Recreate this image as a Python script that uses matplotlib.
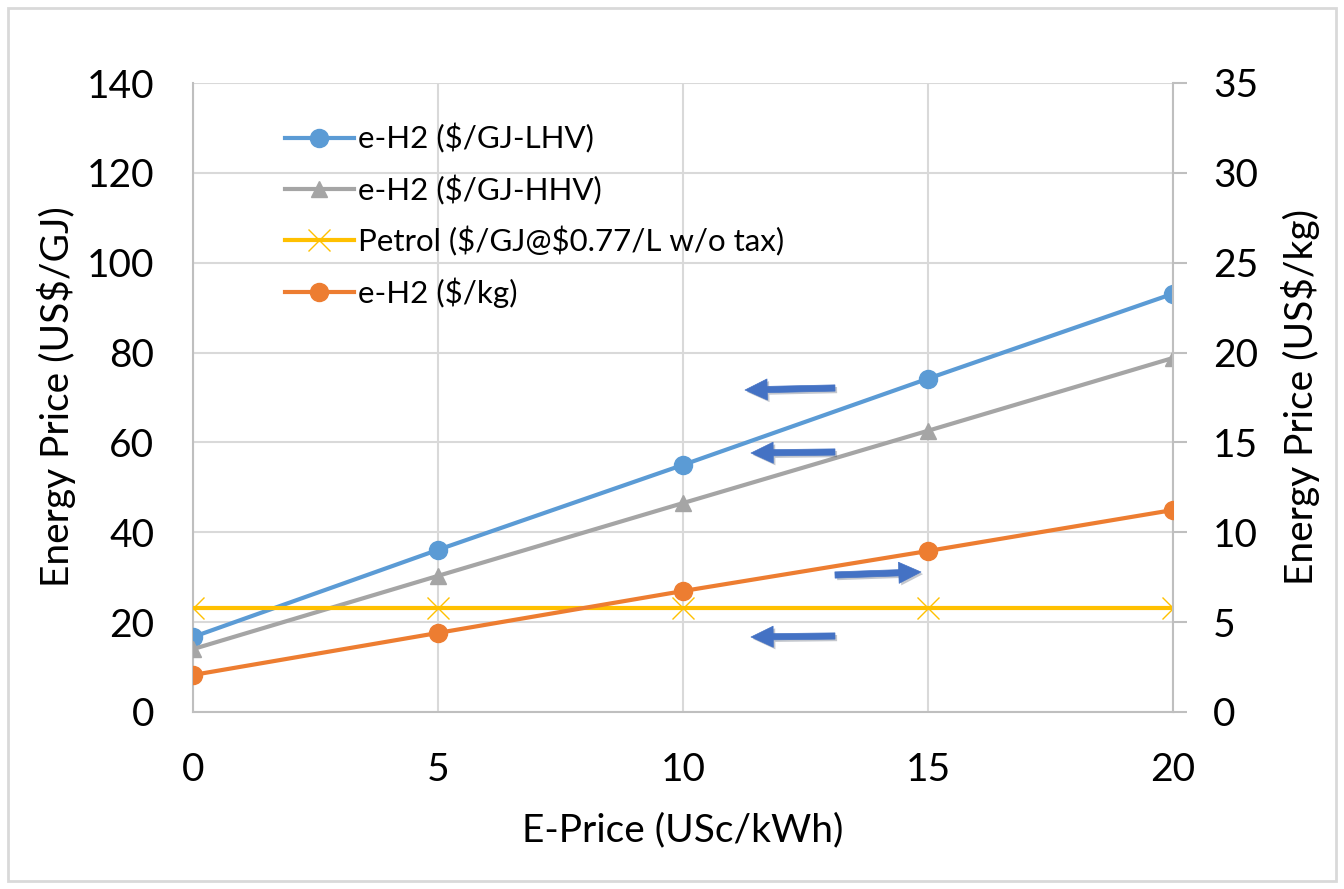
import matplotlib
matplotlib.use("Agg")
import matplotlib.pyplot as plt
from matplotlib.patches import Rectangle
import matplotlib.patheffects as pe

plt.rcParams['font.family'] = ['Lato', 'DejaVu Sans']

# Data
e_price = [0, 5, 10, 15, 20]
h2_lhv = [16.7, 36.1, 55.0, 74.2, 93.1]
h2_hhv = [14.0, 30.3, 46.5, 62.6, 78.8]
petrol = [23.2, 23.2, 23.2, 23.2, 23.2]
h2_kg = [2.06, 4.4, 6.73, 8.96, 11.24]

labels = [r"e-H2 (\$/GJ-LHV)", r"e-H2 (\$/GJ-HHV)", r"Petrol (\$/GJ@\$0.77/L w/o tax)", r"e-H2 (\$/kg)"]
left_ticks = [0, 20, 40, 60, 80, 100, 120, 140]
right_ticks = [0, 5, 10, 15, 20, 25, 30, 35]
x_ticks = [0, 5, 10, 15, 20]

W, H = 1344, 889
fig = plt.figure(figsize=(W / 100, H / 100), dpi=100)
ax = fig.add_axes([193 / W, 1 - 712 / H, 980 / W, 629 / H])
ax2 = ax.twinx()

grid_c = '#D9D9D9'
spine_c = '#BFBFBF'

l1, = ax.plot(e_price, h2_lhv, color='#5B9BD5', lw=3, marker='o', ms=13, zorder=3)
l2, = ax.plot(e_price, h2_hhv, color='#A5A5A5', lw=3, marker='^', ms=12, zorder=3)
l3, = ax.plot(e_price, petrol, color='#FFC000', lw=3, marker='x', ms=16, mew=1, zorder=3)
l4, = ax2.plot(e_price, h2_kg, color='#ED7D31', lw=3, marker='o', ms=13, zorder=3)

ax.set_xlim(0, 20)
ax.set_ylim(0, 140)
ax2.set_ylim(0, 35)
ax.set_xticks(x_ticks)
ax.set_yticks(left_ticks)
ax2.set_yticks(right_ticks)

ax.grid(True, color=grid_c, lw=1.5)
ax.set_axisbelow(True)
for s in ['top', 'right']:
    ax.spines[s].set_visible(False)
for s in ['top', 'left', 'bottom']:
    ax2.spines[s].set_visible(False)
ax.spines['left'].set_color(spine_c)
ax.spines['bottom'].set_color(spine_c)
ax.spines['left'].set_linewidth(1.5)
ax.spines['bottom'].set_linewidth(1.5)
ax2.spines['right'].set_color(spine_c)
ax2.spines['right'].set_linewidth(1.5)

fs_tick = 28
ax.tick_params(axis='y', length=0, pad=28, labelsize=fs_tick)
ax.tick_params(axis='x', length=0, pad=29, labelsize=fs_tick)
ax2.tick_params(axis='y', length=10, width=1.5, color=spine_c, pad=19, labelsize=fs_tick)

fs_lab = 28
fig.text(57 / W, 1 - 397 / H, "Energy Price (US$/GJ)", rotation=90, ha='center', va='center', fontsize=fs_lab)
fig.text(1301 / W, 1 - 397 / H, "Energy Price (US$/kg)", rotation=90, ha='center', va='center', fontsize=fs_lab)
fig.text(683 / W, 1 - 830 / H, "E-Price (USc/kWh)", ha='center', va='center', fontsize=fs_lab)

leg = ax2.legend([l1, l2, l3, l4], labels, loc='upper left', bbox_to_anchor=(0.065, 0.98),
                 frameon=False, fontsize=22.5, handlelength=2.2, handletextpad=0.15, labelspacing=0.68)

# Annotation arrows (axes fraction)
def axf(px, py):
    return ((px - 193) / 980, (712 - py) / 629)

arrow_color = '#4472C4'
arrows = [((835, 388), (745, 390)), ((835, 452), (751, 453)), ((835, 575), (921, 572)), ((835, 636), (751, 637))]
for tail, head in arrows:
    ax2.annotate("", xy=axf(*head), xytext=axf(*tail), xycoords='axes fraction', textcoords='axes fraction',
                 arrowprops=dict(arrowstyle='simple,head_length=1.0,head_width=0.95,tail_width=0.28',
                                 fc=arrow_color, ec=arrow_color, lw=0.5, mutation_scale=16,
                                 shrinkA=0, shrinkB=0,
                                 path_effects=[pe.SimplePatchShadow(offset=(1.5, -1.5), alpha=0.25),
                                               pe.Normal()]))

fig.patches.append(Rectangle((8 / W, 8 / H), 1 - 16 / W, 1 - 16 / H, transform=fig.transFigure,
                             fill=False, edgecolor='#D9D9D9', lw=2))

fig.savefig("out.png", dpi=100, facecolor='white')
